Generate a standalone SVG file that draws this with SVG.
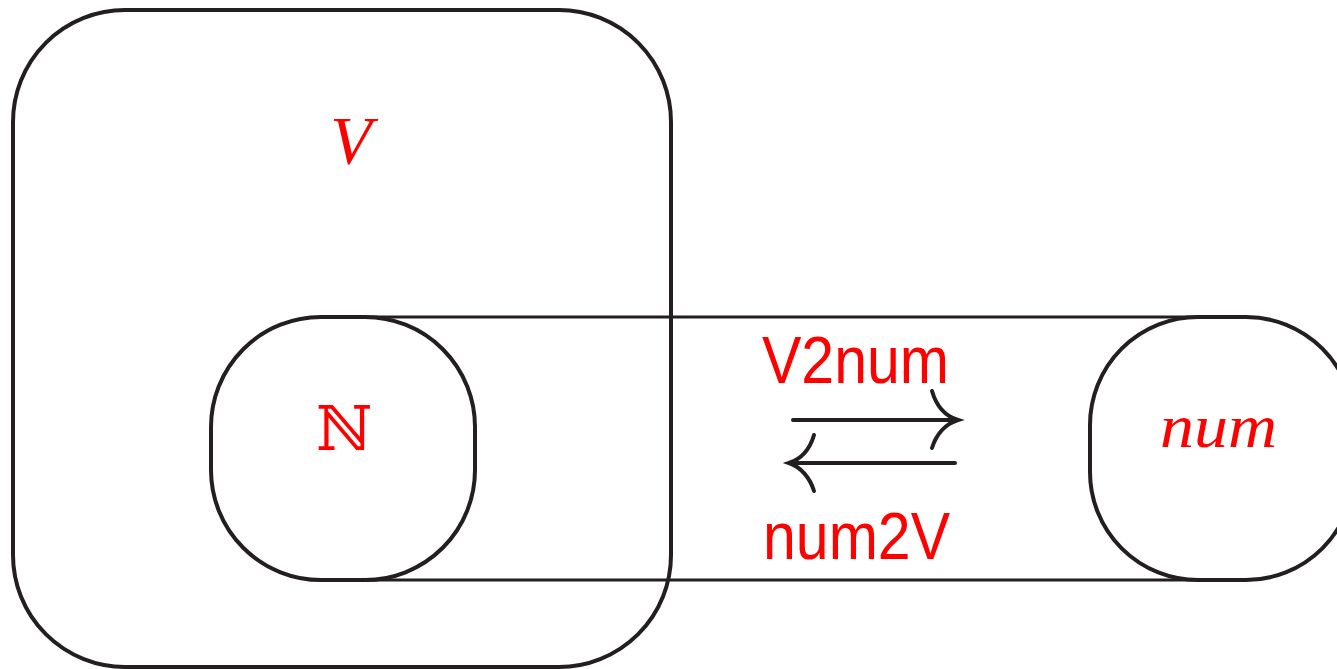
<svg xmlns="http://www.w3.org/2000/svg" width="1337" height="669" viewBox="0 0 1337 669">
<style>
.box{fill:none;stroke:#231f20;stroke-width:4}
.ln{fill:none;stroke:#231f20;stroke-width:3;stroke-linecap:round}
.arr{fill:none;stroke:#231f20;stroke-width:4;stroke-linecap:round}
.lbl{fill:#ff0000}
.sans{font-family:"Liberation Sans",Arial,sans-serif}
.ital{font-family:"Liberation Serif","Times New Roman",serif;font-style:italic}
</style>
<rect width="1337" height="669" fill="#ffffff"/>
<g id="connectors">
<line class="ln" x1="367" y1="317" x2="1198" y2="317"/>
<line class="ln" x1="367" y1="580" x2="1198" y2="580"/>
<g id="v2num-arrow">
<path class="arr" d="M793,420 L957,420"/>
<path class="arr" d="M932,391 C936,405 945,416 958,420 C945,424 936,435 932,448"/>
</g>
<g id="num2v-arrow">
<path class="arr" d="M955,463 L790,463"/>
<path class="arr" d="M814,435 C810,449 801,459 789,463 C801,467 810,478 814,491"/>
</g>
<text class="lbl sans" x="762" y="383" font-size="66" textLength="187" lengthAdjust="spacingAndGlyphs">V2num</text>
<text class="lbl sans" x="763" y="559" font-size="66" textLength="187" lengthAdjust="spacingAndGlyphs">num2V</text>
</g>
<g id="V">
<rect class="box" x="13" y="10" width="658" height="657" rx="112" ry="112"/>
<text class="lbl ital" x="351" y="163" font-size="68" text-anchor="middle">V</text>
</g>
<g id="N">
<rect class="box" x="211" y="317" width="264" height="263" rx="110" ry="110"/>
<text class="lbl" x="344" y="450" font-size="62" text-anchor="middle" font-family="'DejaVu Serif','DejaVu Sans',serif">ℕ</text>
</g>
<g id="num">
<rect class="box" x="1090" y="317" width="264" height="263" rx="108" ry="108"/>
<text class="lbl ital" x="1160" y="447" font-size="62" textLength="117" lengthAdjust="spacingAndGlyphs">num</text>
</g>
</svg>
